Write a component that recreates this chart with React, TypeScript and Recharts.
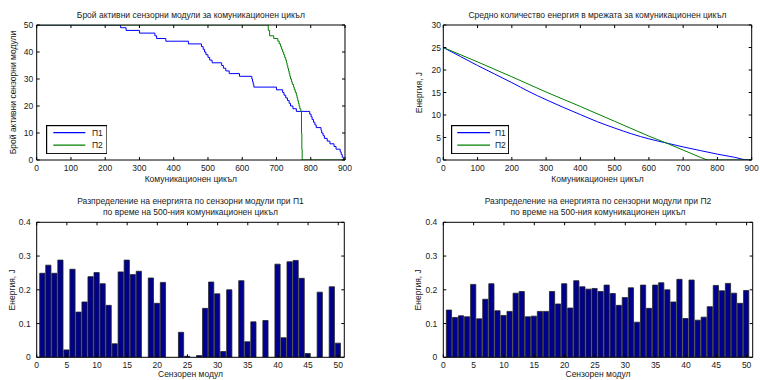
import React from 'react';
import { LineChart, Line, ComposedChart, Bar, XAxis, YAxis, Legend, Label } from 'recharts';

const FONT = '"Liberation Sans", Arial, Helvetica, sans-serif';
const FS = 8.5;
const INK = '#1a1a1a';
const BLUE = '#0000ff';
const GREEN = '#008000';
const NAVY = '#00008f';

// ---------- tick labels ----------
const cycleTicks = [0, 100, 200, 300, 400, 500, 600, 700, 800, 900];
const activeTicks = [0, 10, 20, 30, 40, 50];
const energyTicks = [0, 5, 10, 15, 20, 25, 30];
const sensorTicks = [0, 5, 10, 15, 20, 25, 30, 35, 40, 45, 50];
const barTicks = [0, 0.1, 0.2, 0.3, 0.4];

// ---------- top-left: active sensor modules per cycle ----------
const activeP1Cycles = [0, 245, 261, 300, 345, 350, 377, 443, 481, 486, 490, 494, 500, 505, 512, 540, 545, 552, 562, 592, 628, 630, 632, 634, 700, 718, 722, 727, 732, 737, 741, 748, 758, 797, 801, 804, 808, 812, 816, 830, 832, 836, 840, 848, 856, 868, 874, 886, 889, 892, 896, 900];
const activeP1Counts = [50, 49, 48, 47, 46, 45, 44, 43, 42, 41, 40, 39, 38, 37, 36, 35, 34, 33, 32, 31, 30, 29, 28, 27, 26, 25, 24, 23, 22, 21, 20, 19, 18, 17, 16, 15, 14, 13, 12, 11, 10, 9, 8, 7, 6, 5, 4, 3, 2, 1, 0, 0];
const activeP2Cycles = [0, 676, 680, 692, 704, 708, 712, 715, 718, 721, 724, 727, 729, 731, 733, 735, 737, 739, 741, 744, 746, 750, 752, 755, 758, 760, 762, 764, 766, 768, 771, 773, 774, 775, 900];
const activeP2Counts = [50, 48, 46, 45, 44, 43, 42, 41, 40, 39, 38, 37, 36, 35, 34, 33, 32, 31, 30, 29, 28, 27, 26, 25, 24, 23, 22, 21, 20, 19, 18, 10, 4, 0, 0];

// ---------- top-right: average energy in the network ----------
const energyP1Cycles = [0, 50, 100, 150, 200, 250, 300, 350, 400, 450, 500, 550, 600, 650, 700, 750, 800, 850, 890, 900];
const energyP1 = [25, 23, 21, 19.1, 17.2, 15.2, 13.4, 11.7, 10.1, 8.5, 7.1, 5.8, 4.7, 3.8, 2.9, 2.1, 1.3, 0.6, 0, 0];
const energyP2Cycles = [0, 100, 200, 300, 400, 500, 600, 650, 700, 750, 770, 900];
const energyP2 = [25, 21.8, 18.5, 15.1, 11.9, 8.6, 5.3, 3.8, 2.2, 0.6, 0, 0];

// ---------- bottom: energy per sensor at cycle 500 ----------
const sensorIds = [1, 2, 3, 4, 5, 6, 7, 8, 9, 10, 11, 12, 13, 14, 15, 16, 17, 18, 19, 20, 21, 22, 23, 24, 25, 26, 27, 28, 29, 30, 31, 32, 33, 34, 35, 36, 37, 38, 39, 40, 41, 42, 43, 44, 45, 46, 47, 48, 49, 50];
const sensorEnergyP1 = [0.249, 0.273, 0.249, 0.288, 0.022, 0.261, 0.134, 0.164, 0.239, 0.251, 0.218, 0.154, 0.04, 0.253, 0.288, 0.245, 0.255, 0, 0.235, 0.16, 0.222, 0, 0, 0.074, 0.003, 0, 0.005, 0.145, 0.223, 0.188, 0.017, 0.2, 0, 0.227, 0.046, 0.105, 0, 0.109, 0, 0.276, 0.058, 0.283, 0.287, 0.234, 0.011, 0, 0.193, 0, 0.209, 0.042];
const sensorEnergyP2 = [0.14, 0.118, 0.123, 0.12, 0.216, 0.114, 0.172, 0.218, 0.138, 0.124, 0.136, 0.19, 0.195, 0.12, 0.122, 0.136, 0.136, 0.195, 0.158, 0.218, 0.146, 0.227, 0.209, 0.202, 0.204, 0.195, 0.214, 0.189, 0.154, 0.177, 0.206, 0.104, 0.214, 0.145, 0.214, 0.221, 0.2, 0.164, 0.231, 0.115, 0.229, 0.11, 0.119, 0.15, 0.213, 0.197, 0.219, 0.19, 0.16, 0.198];

const zip = (xs: number[], ys: number[]) => xs.map((c, i) => ({ c, v: ys[i] }));
const activeP1Data = zip(activeP1Cycles, activeP1Counts);
const activeP2Data = zip(activeP2Cycles, activeP2Counts);
const energyP1Data = zip(energyP1Cycles, energyP1);
const energyP2Data = zip(energyP2Cycles, energyP2);
const barDataP1 = zip(sensorIds, sensorEnergyP1);
const barDataP2 = zip(sensorIds, sensorEnergyP2);

const tickFont = { fontSize: FS, fill: INK, fontFamily: FONT };
const labelFont = { fontSize: FS, fill: INK, fontFamily: FONT };
const axisLine = { stroke: '#000', strokeWidth: 1 };
const tickLine = { stroke: '#000', strokeWidth: 1 };
const blank = () => '';

const yLabel = (text: string, dx: number) => (props: any) => {
  const vb = props.viewBox ?? { x: 0, y: 0, width: 0, height: 0 };
  const x = vb.x + dx;
  const y = vb.y + vb.height / 2;
  return (
    <text x={x} y={y} transform={`rotate(-90 ${x} ${y})`} textAnchor="middle" dominantBaseline="central" {...labelFont}>
      {text}
    </text>
  );
};

const makeLegend = (w: number, h: number, lx1: number, lx2: number, tx: number, rows: number[]) => (props: any) => {
  const payload = (props.payload ?? []).filter((e: any) => e.type !== 'none');
  return (
    <svg width={w} height={h} style={{ display: 'block' }}>
      <rect x={0.6} y={0.6} width={w - 1.2} height={h - 1.2} fill="#fff" stroke="#000" strokeWidth={1.2} />
      {payload.map((e: any, i: number) => (
        <g key={i}>
          <line x1={lx1} x2={lx2} y1={rows[i]} y2={rows[i]} stroke={e.color} strokeWidth={1.2} />
          <text x={tx} y={rows[i]} dominantBaseline="central" {...labelFont}>{e.value}</text>
        </g>
      ))}
    </svg>
  );
};
const legendTL = makeLegend(61.6, 29.3, 7.3, 39.3, 46, [7.6, 20.2]);
const legendTR = makeLegend(58.3, 29.3, 6.3, 39, 44, [7.6, 20.2]);

const fmt = (v: number) => String(v);

// invisible series binding the mirrored (top / right) frame axes
const frameSeries = (data: { c: number; v: number }[]) => (
  <Line xAxisId="t" yAxisId="r" data={data} dataKey="v" stroke="none" strokeWidth={0} dot={false} activeDot={false} legendType="none" isAnimationActive={false} />
);

export default function App() {
  return (
    <div style={{ position: 'absolute', left: 0, top: 0, width: 760, height: 380, background: '#fff' }}>
      {/* Top-left */}
      <div style={{ position: 'absolute', left: 0, top: 0 }}>
        <LineChart width={380} height={190} margin={{ top: 25, right: 35, bottom: 0, left: 0 }}>
          <XAxis xAxisId="b" type="number" dataKey="c" domain={[0, 900]} ticks={cycleTicks} interval={0} allowDataOverflow height={30} tickSize={-3} tickMargin={8} tick={tickFont} axisLine={axisLine} tickLine={tickLine}>
            <Label value="Комуникационен цикъл" position="insideBottom" offset={8.5} {...labelFont} />
          </XAxis>
          <XAxis xAxisId="t" orientation="top" type="number" dataKey="c" domain={[0, 900]} ticks={cycleTicks} interval={0} allowDataOverflow height={0.01} tickSize={-3} tickFormatter={blank} tick={tickFont} axisLine={axisLine} tickLine={tickLine}>
            <Label value="Брой активни сензорни модули за комуникационен цикъл" position="top" offset={7} {...labelFont} />
          </XAxis>
          <YAxis yAxisId="l" type="number" domain={[0, 50]} ticks={activeTicks} interval={0} allowDataOverflow width={36.7} tickSize={-3} tickMargin={6.4} tick={tickFont} axisLine={axisLine} tickLine={tickLine}>
            <Label content={yLabel('Брой активни сензорни модули', 13)} />
          </YAxis>
          <YAxis yAxisId="r" orientation="right" type="number" domain={[0, 50]} ticks={activeTicks} interval={0} allowDataOverflow width={0.01} tickSize={-3} tickFormatter={blank} tick={tickFont} axisLine={axisLine} tickLine={tickLine} />
          {frameSeries(activeP2Data)}
          <Line xAxisId="b" yAxisId="l" data={activeP1Data} dataKey="v" name="П1" type="stepAfter" stroke={BLUE} strokeWidth={1} dot={false} isAnimationActive={false} />
          <Line xAxisId="b" yAxisId="l" data={activeP2Data} dataKey="v" name="П2" type="stepAfter" stroke={GREEN} strokeWidth={1} dot={false} isAnimationActive={false} />
          <Legend layout="vertical" align="center" verticalAlign="middle" wrapperStyle={{ left: 45.7, top: 125, width: 61.6, height: 29.3 }} content={legendTL} />
        </LineChart>
      </div>

      {/* Top-right */}
      <div style={{ position: 'absolute', left: 380, top: 0 }}>
        <LineChart width={380} height={190} margin={{ top: 25, right: 8.3, bottom: 0, left: 0 }}>
          <XAxis xAxisId="b" type="number" dataKey="c" domain={[0, 900]} ticks={cycleTicks} interval={0} allowDataOverflow height={30} tickSize={-3} tickMargin={8} tick={tickFont} axisLine={axisLine} tickLine={tickLine}>
            <Label value="Комуникационен цикъл" position="insideBottom" offset={8.5} {...labelFont} />
          </XAxis>
          <XAxis xAxisId="t" orientation="top" type="number" dataKey="c" domain={[0, 900]} ticks={cycleTicks} interval={0} allowDataOverflow height={0.01} tickSize={-3} tickFormatter={blank} tick={tickFont} axisLine={axisLine} tickLine={tickLine}>
            <Label value="Средно количество енергия в мрежата за комуникационен цикъл" position="top" offset={7} {...labelFont} />
          </XAxis>
          <YAxis yAxisId="l" type="number" domain={[0, 30]} ticks={energyTicks} interval={0} allowDataOverflow width={63.3} tickSize={-3} tickMargin={5.3} tick={tickFont} axisLine={axisLine} tickLine={tickLine}>
            <Label content={yLabel('Енергия, J', 39)} />
          </YAxis>
          <YAxis yAxisId="r" orientation="right" type="number" domain={[0, 30]} ticks={energyTicks} interval={0} allowDataOverflow width={0.01} tickSize={-3} tickFormatter={blank} tick={tickFont} axisLine={axisLine} tickLine={tickLine} />
          {frameSeries(energyP2Data)}
          <Line xAxisId="b" yAxisId="l" data={energyP1Data} dataKey="v" name="П1" type="monotone" stroke={BLUE} strokeWidth={1} dot={false} isAnimationActive={false} />
          <Line xAxisId="b" yAxisId="l" data={energyP2Data} dataKey="v" name="П2" type="linear" stroke={GREEN} strokeWidth={1} dot={false} isAnimationActive={false} />
          <Legend layout="vertical" align="center" verticalAlign="middle" wrapperStyle={{ left: 71, top: 125, width: 58.3, height: 29.3 }} content={legendTR} />
        </LineChart>
      </div>

      {/* Bottom-left */}
      <div style={{ position: 'absolute', left: 0, top: 190 }}>
        <ComposedChart width={380} height={190} data={barDataP1} margin={{ top: 32.3, right: 35.7, bottom: 0, left: 0 }}>
          <XAxis xAxisId="b" type="number" dataKey="c" domain={[0, 51]} ticks={sensorTicks} interval={0} allowDataOverflow height={22.7} tickSize={-3} tickMargin={7.4} tick={tickFont} axisLine={axisLine} tickLine={tickLine}>
            <Label value="Сензорен модул" position="insideBottom" offset={3} {...labelFont} />
          </XAxis>
          <XAxis xAxisId="t" orientation="top" type="number" dataKey="c" domain={[0, 51]} ticks={sensorTicks} interval={0} allowDataOverflow height={0.01} tickSize={-3} tickFormatter={blank} tick={tickFont} axisLine={axisLine} tickLine={tickLine}>
            <Label value="Разпределение на енергията по сензорни модули при П1" position="top" offset={18.5} {...labelFont} />
            <Label value="по време на 500-ния комуникационен цикъл" position="top" offset={7} {...labelFont} />
          </XAxis>
          <YAxis yAxisId="l" type="number" domain={[0, 0.4]} ticks={barTicks} interval={0} allowDataOverflow width={36.7} tickSize={-3} tickMargin={9} tickFormatter={fmt} tick={tickFont} axisLine={axisLine} tickLine={tickLine}>
            <Label content={yLabel('Енергия, J', 12)} />
          </YAxis>
          <YAxis yAxisId="r" orientation="right" type="number" domain={[0, 0.4]} ticks={barTicks} interval={0} allowDataOverflow width={0.01} tickSize={-3} tickFormatter={blank} tick={tickFont} axisLine={axisLine} tickLine={tickLine} />
          {frameSeries(barDataP1)}
          <Bar xAxisId="b" yAxisId="l" dataKey="v" barSize={5.2} fill={NAVY} stroke="#222" strokeWidth={0.8} isAnimationActive={false} />
        </ComposedChart>
      </div>

      {/* Bottom-right */}
      <div style={{ position: 'absolute', left: 380, top: 190 }}>
        <ComposedChart width={380} height={190} data={barDataP2} margin={{ top: 32.3, right: 7.3, bottom: 0, left: 0 }}>
          <XAxis xAxisId="b" type="number" dataKey="c" domain={[0, 51]} ticks={sensorTicks} interval={0} allowDataOverflow height={22.7} tickSize={-3} tickMargin={7.4} tick={tickFont} axisLine={axisLine} tickLine={tickLine}>
            <Label value="Сензорен модул" position="insideBottom" offset={3} {...labelFont} />
          </XAxis>
          <XAxis xAxisId="t" orientation="top" type="number" dataKey="c" domain={[0, 51]} ticks={sensorTicks} interval={0} allowDataOverflow height={0.01} tickSize={-3} tickFormatter={blank} tick={tickFont} axisLine={axisLine} tickLine={tickLine}>
            <Label value="Разпределение на енергията по сензорни модули при П2" position="top" offset={18.5} {...labelFont} />
            <Label value="по време на 500-ния комуникационен цикъл" position="top" offset={7} {...labelFont} />
          </XAxis>
          <YAxis yAxisId="l" type="number" domain={[0, 0.4]} ticks={barTicks} interval={0} allowDataOverflow width={63.3} tickSize={-3} tickMargin={9} tickFormatter={fmt} tick={tickFont} axisLine={axisLine} tickLine={tickLine}>
            <Label content={yLabel('Енергия, J', 38)} />
          </YAxis>
          <YAxis yAxisId="r" orientation="right" type="number" domain={[0, 0.4]} ticks={barTicks} interval={0} allowDataOverflow width={0.01} tickSize={-3} tickFormatter={blank} tick={tickFont} axisLine={axisLine} tickLine={tickLine} />
          {frameSeries(barDataP2)}
          <Bar xAxisId="b" yAxisId="l" dataKey="v" barSize={5.2} fill={NAVY} stroke="#222" strokeWidth={0.8} isAnimationActive={false} />
        </ComposedChart>
      </div>
    </div>
  );
}
